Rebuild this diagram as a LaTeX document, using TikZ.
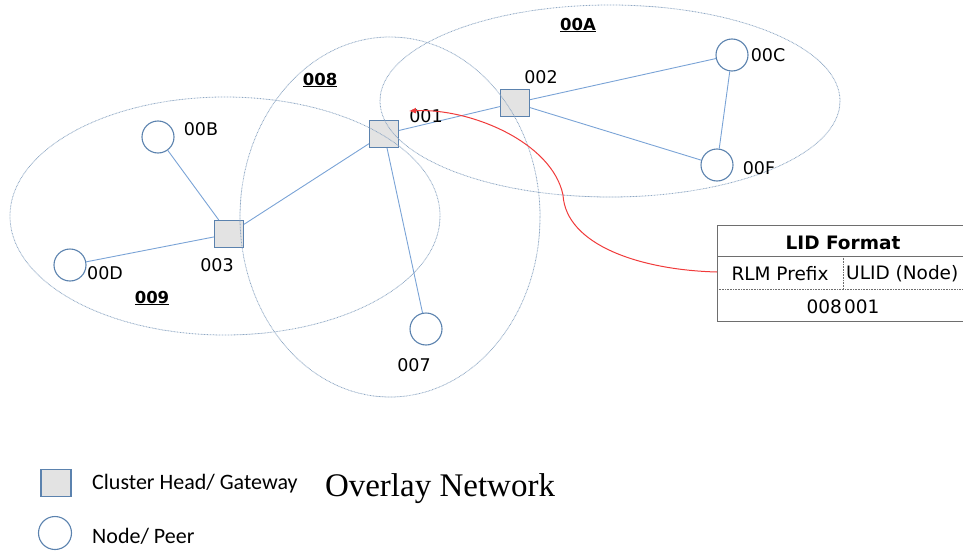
\documentclass[tikz,border=0pt]{standalone}
\usepackage{fontspec}
\usepackage{tikz}
\usetikzlibrary{arrows.meta}
\newfontfamily\labelfont{DejaVu Sans}
\newfontfamily\legendfont{Carlito}
\newfontfamily\titlefont{Liberation Serif}
\definecolor{linkblue}{HTML}{7AA3D6}
\definecolor{rimblue}{HTML}{5B82AE}
\definecolor{zonegray}{HTML}{8FA8C4}
\definecolor{headfill}{HTML}{E3E3E3}
\definecolor{tablegray}{HTML}{6E6E6E}
\definecolor{pointred}{HTML}{F03A3A}

\begin{document}
\begin{tikzpicture}[x=1pt, y=-1pt,
    head/.style={rectangle, draw=rimblue, fill=headfill, line width=1.1pt, minimum width=29, minimum height=27, inner sep=0},
    peer/.style={circle, draw=rimblue, line width=1.1pt, minimum size=32, inner sep=0},
    link/.style={line width=0.9pt, color=linkblue},
    zone/.style={line width=0.8pt, color=zonegray, dash pattern=on 0.8pt off 0.7pt},
    tag/.style={font=\labelfont\fontsize{17.5}{20}\selectfont, inner sep=0},
    zonetag/.style={font=\labelfont\bfseries\fontsize{16.5}{20}\selectfont, inner sep=0},
    cell/.style={font=\labelfont\fontsize{18.5}{21}\selectfont, inner sep=0},
    tableline/.style={line width=1pt, color=tablegray},
    cellsep/.style={line width=0.8pt, color=tablegray, dash pattern=on 0.8pt off 0.8pt},
    pointer/.style={line width=1pt, color=pointred, >={Latex[length=7,width=6]}}]
      \useasboundingbox (0,0) rectangle (963,551);
      % cluster heads and peers
      \node [head] (h001) at (384,134) {};
      \node [head] (h002) at (515,103) {};
      \node [head] (h003) at (229,234) {};
      \node [peer] (p00B) at (158,137) {};
      \node [peer] (p00D) at (70,265) {};
      \node [peer] (p00C) at (732,55) {};
      \node [peer] (p00F) at (717,165) {};
      \node [peer] (p007) at (426,329) {};
      % links
      \draw [link] (p00B) -- (h003);
      \draw [link] (p00D) -- (h003);
      \draw [link] (h003) -- (h001);
      \draw [link] (h001) -- (p007);
      \draw [link] (h001) -- (h002);
      \draw [link] (h002) -- (p00C);
      \draw [link] (h002) -- (p00F);
      \draw [link] (p00C) -- (p00F);
      % clusters
      \draw [zone] (225,216) ellipse (215 and 119);
      \draw [zone] (390,217) ellipse (150 and 180);
      \draw [zone] (610,101) ellipse (230 and 96);
      \node [zonetag] (z009) at (152,298) {\underline{009}};
      \node [zonetag] (z008) at (320,80) {\underline{008}};
      \node [zonetag] (z00A) at (578,25) {\underline{00A}};
      % node labels
      \node [tag] (t001) at (426,116) {001};
      \node [tag] (t002) at (541,77) {002};
      \node [tag] (t003) at (217,265) {003};
      \node [tag] (t00B) at (201,129) {00B};
      \node [tag] (t00D) at (105,273) {00D};
      \node [tag] (t00C) at (768,55) {00C};
      \node [tag] (t00F) at (759,168) {00F};
      \node [tag] (t007) at (414,365) {007};
      % LID format table
      \draw [tableline] (975,225) -- (717,225) -- (717,321) -- (975,321);
      \draw [tableline] (717,256) -- (975,256);
      \draw [cellsep] (717,289) -- (975,289);
      \draw [cellsep] (843,256) -- (843,289);
      \node [cell] (lidtitle) at (843,243) {\bfseries LID Format};
      \node [cell] (rlm) at (780,274) {RLM Prefix};
      \node [cell, anchor=west] (ulid) at (846,274) {ULID (Node)};
      \node [cell, anchor=east] (prefix) at (842,307) {008};
      \node [cell, anchor=west] (suffix) at (844,307) {001};
      \coordinate (lidin) at (717,272);
      \coordinate (tip) at (409,111);
      \draw [pointer, <-] (tip) .. controls (470,108) and (552,142) .. (563,195)
            .. controls (566,245) and (640,270) .. (lidin);
      % legend
      \node [head, minimum width=30] (keyhead) at (56,483) {};
      \node [peer, minimum size=33] (keypeer) at (55,533) {};
      \node [font=\legendfont\fontsize{22}{24}\selectfont, anchor=west, inner sep=0] (keyheadtxt) at (92,484) {Cluster Head/ Gateway};
      \node [font=\legendfont\fontsize{22}{24}\selectfont, anchor=west, inner sep=0] (keypeertxt) at (92,536) {Node/ Peer};
      \node [font=\titlefont\fontsize{33}{38}\selectfont, inner sep=0] (title) at (440,489) {Overlay Network};
\end{tikzpicture}
\end{document}
